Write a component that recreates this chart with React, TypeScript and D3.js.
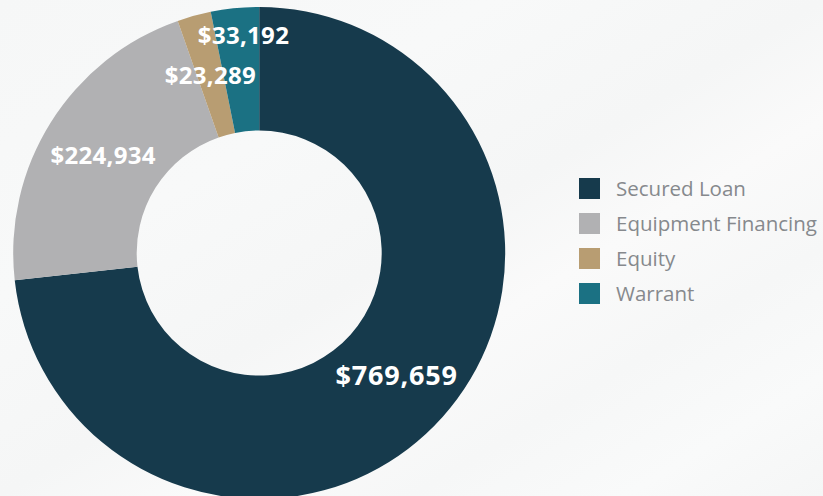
import React from "react";
import * as d3 from "d3";

const categories = ["Secured Loan", "Equipment Financing", "Equity", "Warrant"];
const values = [769659, 224934, 23289, 33192];
const labels = ["$769,659", "$224,934", "$23,289", "$33,192"];
const colors = ["#163a4c", "#b1b1b3", "#b89d72", "#1b7183"];
const labelSizes = [27, 24, 24, 24];
const labelRadiusOverride: (number | null)[] = [null, null, null, 219];

const W = 823;
const H = 496;
const cx = 259.2;
const cy = 253;
const R = 246;
const r = 122.5;

export default function App() {
  const pie = d3.pie<number>().sort(null).value((d) => d)(values);
  const arc = d3.arc<d3.PieArcDatum<number>>().innerRadius(r).outerRadius(R);
  const legendY = d3.scaleBand<string>().domain(categories).range([171, 311]).paddingInner(0);

  return (
    <svg
      width={W}
      height={H}
      style={{ position: "fixed", left: 0, top: 0 }}
      fontFamily="'Open Sans', sans-serif"
    >
      <defs>
        <linearGradient id="bg" x1="0" y1="0" x2="1" y2="1">
          <stop offset="0" stopColor="#f6f7f7" />
          <stop offset="0.3" stopColor="#f8f9f9" />
          <stop offset="0.5" stopColor="#f5f6f6" />
          <stop offset="0.62" stopColor="#fafafa" />
          <stop offset="0.75" stopColor="#f6f7f7" />
          <stop offset="0.88" stopColor="#f9fafa" />
          <stop offset="1" stopColor="#f5f6f6" />
        </linearGradient>
      </defs>
      <rect x={0} y={0} width={W} height={H} fill="url(#bg)" />
      <g transform={`translate(${cx},${cy})`}>
        {pie.map((p, i) => (
          <path key={i} d={arc(p) || ""} fill={colors[i]} />
        ))}
        {pie.map((p, i) => {
          const mid = (p.startAngle + p.endAngle) / 2;
          const rad = labelRadiusOverride[i] ?? (r + R) / 2;
          const x = Math.sin(mid) * rad;
          const y = -Math.cos(mid) * rad;
          const override = labelRadiusOverride[i] != null;
          return (
            <text
              key={i}
              x={override ? x + 6 : x}
              y={y + labelSizes[i] * 0.357}
              textAnchor="middle"
              fill="#ffffff"
              fontWeight={700}
              fontSize={labelSizes[i]}
              letterSpacing={i === 0 ? 0.8 : 0.3}
            >
              {labels[i]}
            </text>
          );
        })}
      </g>
      <g>
        {categories.map((c, i) => {
          const y0 = legendY(c)!;
          const bw = legendY.bandwidth();
          const yc = y0 + bw / 2;
          return (
            <g key={c}>
              <rect x={579} y={yc - 10.5} width={21} height={21} fill={colors[i]} />
              <text x={616} y={yc + 7.5} fontSize={20.5} fill="#86898d">
                {c}
              </text>
            </g>
          );
        })}
      </g>
    </svg>
  );
}
